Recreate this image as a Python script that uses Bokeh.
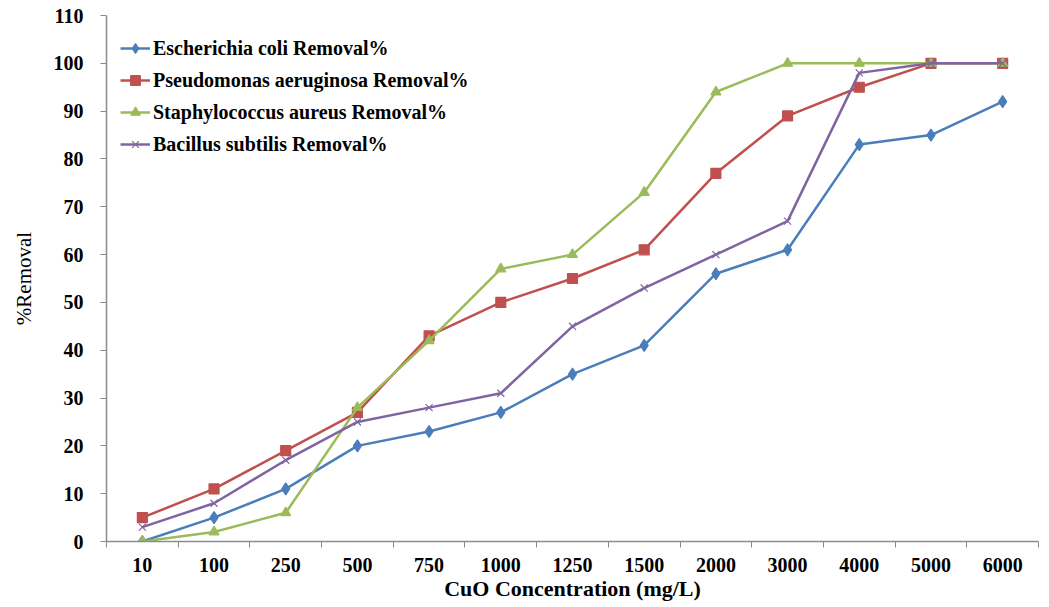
from bokeh.plotting import figure
from bokeh.models import Range1d, FixedTicker, Legend, LegendItem
from bokeh.embed import file_html
from bokeh.resources import INLINE

concentrations = ["10", "100", "250", "500", "750", "1000", "1250", "1500", "2000", "3000", "4000", "5000", "6000"]
ecoli = [0, 5, 11, 20, 23, 27, 35, 41, 56, 61, 83, 85, 92]
paeruginosa = [5, 11, 19, 27, 43, 50, 55, 61, 77, 89, 95, 100, 100]
saureus = [0, 2, 6, 28, 42, 57, 60, 73, 94, 100, 100, 100, 100]
bsubtilis = [3, 8, 17, 25, 28, 31, 45, 53, 60, 67, 98, 100, 100]
y_ticks = list(range(0, 111, 10))

FONT = "Liberation Serif"
AXIS_COLOR = "#8c8c8c"

n = len(concentrations)
xpos = [i + 0.5 for i in range(n)]

p = figure(width=1041, height=607, output_backend="svg", toolbar_location=None,
           x_range=Range1d(0, n), y_range=Range1d(0, 110),
           min_border_left=106, min_border_right=3, min_border_top=15, min_border_bottom=66)
p.outline_line_color = None
p.xgrid.visible = False
p.ygrid.visible = False

series = [
    ("Escherichia coli Removal%", ecoli, "#4A7EBB", "diamond", 12),
    ("Pseudomonas aeruginosa Removal%", paeruginosa, "#C0504D", "square", 10),
    ("Staphylococcus aureus Removal%", saureus, "#9BBB59", "triangle", 10),
    ("Bacillus subtilis Removal%", bsubtilis, "#8064A2", "x", 10),
]

items = []
for label, vals, color, marker, size in series:
    r1 = p.line(xpos, vals, line_color=color, line_width=2.5)
    r2 = p.scatter(xpos, vals, marker=marker, size=size, fill_color=color, line_color=color, line_width=1.2)
    items.append(LegendItem(label=label, renderers=[r1, r2]))

legend = Legend(items=items, location=(14, 385), padding=0, margin=0, spacing=8,
                glyph_width=30, glyph_height=24, label_height=24, label_standoff=3,
                border_line_color=None, background_fill_alpha=0,
                label_text_font=FONT, label_text_font_style="bold", label_text_font_size="20px",
                label_text_color="#000000")
p.add_layout(legend, "center")

xt = FixedTicker(ticks=xpos, minor_ticks=list(range(0, n + 1)))
p.xaxis.ticker = xt
p.xaxis.major_label_overrides = {x: c for x, c in zip(xpos, concentrations)}
p.xaxis.minor_tick_line_color = AXIS_COLOR
p.xaxis.minor_tick_in = 0
p.xaxis.minor_tick_out = 6
p.xaxis.major_label_standoff = 10
p.xaxis.axis_label = "CuO Concentration (mg/L)"
p.xaxis.axis_label_standoff = 1

p.yaxis.ticker = FixedTicker(ticks=y_ticks)
p.yaxis.minor_tick_line_color = None
p.yaxis.major_tick_in = 0
p.yaxis.major_tick_out = 6
p.yaxis.major_label_standoff = 17
p.yaxis.axis_label = "%Removal"
p.yaxis.axis_label_standoff = 15

for ax in (p.xaxis, p.yaxis):
    ax.axis_line_color = AXIS_COLOR
    ax.axis_line_width = 1.5
    ax.major_label_text_font = FONT
    ax.major_label_text_font_style = "bold"
    ax.major_label_text_font_size = "20px"
    ax.major_label_text_color = "#000000"
    ax.axis_label_text_font = FONT
    ax.axis_label_text_color = "#000000"

p.xaxis.major_tick_line_color = None
p.yaxis.major_tick_line_color = AXIS_COLOR
p.xaxis.axis_label_text_font_style = "bold"
p.xaxis.axis_label_text_font_size = "22px"
p.yaxis.axis_label_text_font_style = "normal"
p.yaxis.axis_label_text_font_size = "21px"

open("out.html", "w").write(file_html(p, INLINE))
